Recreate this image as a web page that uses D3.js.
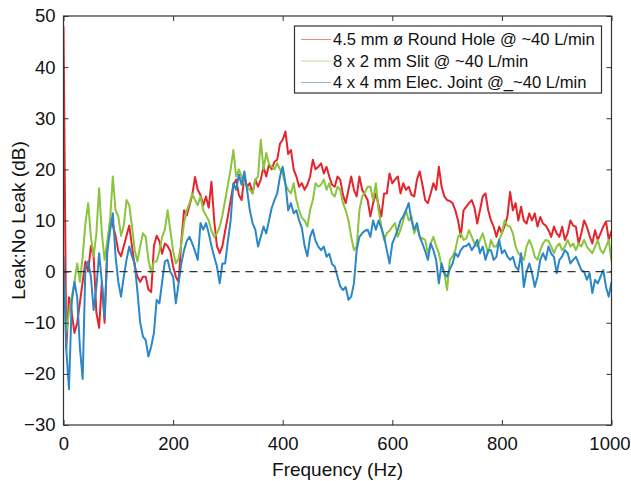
<!DOCTYPE html>
<html>
<head>
<meta charset="utf-8">
<script src="https://cdn.jsdelivr.net/npm/d3@7"></script>
<style>
  body { margin: 0; background: #fff; }
  text { font-family: "Liberation Sans", Arial, Helvetica, sans-serif; fill: #111; }
</style>
</head>
<body>
<script>
    //Declare consts/global variables
        const width = 631;
        const height = 481;
        const plotLeft = 63.5, plotRight = 611.5, plotTop = 16, plotBottom = 425;

    //Data - frequency grid (Hz) and the three leak traces (dB), every 5 Hz
        const freqs = d3.range(0, 1001, 5);

        const roundHole = [
            48, -15, -5, -8, -12, -10, -6, -2, 2, 0, 5, 3, -8, -11, -2, -10, 5, 10, 9, 7,
            4, 3, 5, 7, 9, 5, 1, -1, -2, -1, -1, -3.5, -4, 5, 7, 6, 3.5, 5.5, 5, 4,
            1, -1, -2, 6, 12, 11, 13, 15, 18.5, 16, 15, 13, 14.7, 12.5, 17.6, 10, 5, 3.6, 5, 8,
            10.8, 14, 17, 18, 15, 14, 18.6, 16.6, 17.3, 15.3, 18, 16.6, 18, 20.5, 18.6, 21, 20, 21.5, 21.9, 25,
            25.8, 27.4, 23, 23.8, 20, 18.6, 16.6, 17.3, 16, 17, 18.6, 21.9, 20, 20.5, 21.2, 19.2, 20.5, 18.6, 17, 16.6,
            18.6, 18, 15, 13.4, 16, 18.6, 16, 14.7, 18.6, 16, 15, 14, 10.8, 13.4, 15.3, 13, 10.8, 15.3, 15.3, 19.2,
            17.3, 18, 18.6, 15.3, 17.3, 16, 16.6, 15, 14.7, 18, 19.6, 17, 14, 13.4, 15.3, 17.3, 16, 20.5, 16.6, 14.7,
            14, 13.8, 13.4, 12, 10, 6.8, 12, 12.7, 13.4, 14, 12.5, 9.4, 12, 14.7, 15.3, 12, 10, 8.8, 6.8, 8.8,
            7.5, 9, 10.7, 15.6, 12, 13.4, 10, 12.7, 10, 9.4, 11.4, 10, 11.4, 8.8, 10.7, 9.4, 9, 8.1, 6.8, 8.8,
            7.5, 6.8, 8.8, 6.2, 7.5, 10, 9, 8.8, 5.5, 7.5, 10, 8.8, 7, 5.5, 8.1, 6.2, 7.5, 8.8, 9.8, 6.2,
            8
        ];

        const slit = [
            2, -12, -8, -5, -2, 1.6, -2, 3, 9.5, 13.4, 6.8, 3, 7.5, 16.3, 7.5, 2.3, 6, 10, 18.6, 12,
            10.8, 7, 9, 14, 13, 8.8, 4.2, 2, 5, 7.5, 6.8, 2.3, -0.3, 2, 2, 4, 6.8, 8.2, 12, 8,
            4, 1.6, 2.5, 5.5, 9.5, 12, 13.4, 15.3, 14, 13, 14.7, 12, 11, 10, 8, 6.8, 7.5, 8.8, 11, 14,
            17, 20, 23.8, 18.6, 20, 18.6, 17.3, 16.6, 16, 15.3, 18, 18.6, 25.8, 20, 23.2, 21, 20.5, 20, 21.2, 20,
            19.2, 17, 16, 15.3, 17.3, 14, 12, 10.5, 10, 8.8, 12, 14, 17.3, 16.6, 17, 18, 16, 17.3, 15.3, 14.7,
            16.6, 16, 13.4, 12, 10, 6.8, 4.2, 4.9, 12, 14.7, 15.5, 16.6, 16.6, 14, 17.3, 12, 8.8, 6.2, 7.5, 8,
            8.8, 9.5, 6.8, 8.2, 10, 12, 10, 10.8, 7.5, 8.8, 6.8, 6.5, 6.2, 3.6, 5.5, 6.8, 5, 3.6, 1, -0.3,
            -3.6, 2.3, 3, 4.2, 6.8, 7.5, 6.2, 6.5, 8.1, 6.8, 5.5, 4.9, 6.2, 7.5, 5.5, 3.6, 6.2, 4.9, 4.9, 6.2,
            7.5, 10, 9, 8.8, 7.5, 4.9, 3.6, 3, 2.3, 4.9, 6.2, 4.9, 2.9, 2.3, 4.2, 5.5, 6.2, 6, 4.9, 3.6,
            4.9, 5.5, 4.2, 4.9, 6.2, 4.9, 5.5, 4.2, 5.5, 4.9, 6.2, 4.9, 4.2, 3.6, 4.9, 6.2, 4.2, 3.6, 4.9, 6.2,
            2
        ];

        const elecJoint = [
            3, -15, -23, -6, -2, -5, -15, -21, 1, 2, -1, -7.5, -3, 3.6, -2, -9, 4, 8, 11.4, 3,
            -2, -4.9, -1, 2.3, 4.9, 3, 1.6, -4, -10, -12.7, -13.4, -16.6, -14.7, -12, -5.5, -6.2, -2, 2, 2.3, 0,
            -1, -6.2, -2.3, 1.6, 4.2, 6, 6.8, 5.5, 4, 2.3, 9.5, 8.2, 9.5, 7.5, 5, 2.9, 1, -2.3, 1.6, 1.6,
            6, 10, 17.3, 16, 19, 17, 19.6, 16, 12, 9.5, 8.2, 4.9, 6.8, 8.8, 7.5, 10, 12.5, 14, 15.3, 18.6,
            20.5, 17.3, 12, 13.4, 11.4, 12, 10, 8.5, 5, 3, 6.8, 8.2, 6, 4.9, 4.2, 4.9, 2.9, 3.5, 1.5, 1,
            -1, -2.9, -3.6, -3, -5.5, -4.9, -2.3, 4.2, 6.8, 7.5, 8, 8.2, 6.8, 10, 8.2, 10, 8.5, 6.8, 4.2, 1.6,
            5.5, 6.8, 8.2, 10, 10.8, 12, 13.4, 10, 8.2, 9.5, 6.8, 5.5, 4, 2.3, 5.5, 4.2, 2.3, -2.3, 1.6, -0.3,
            -1, 0.5, 1.6, 3.6, 2.9, 4.2, 4.9, 5, 5.5, 4.2, 5, 6.2, 3.6, 4.9, 2.3, 4.2, 4.2, 2.3, 2.9, 6.2,
            3.6, 4.2, 3, 2.3, 2.9, 1, 0.3, 3.6, -3, 0, 1.6, -0.3, -3, -1, 2.3, 3.6, 2.3, 4.9, 3.5, 2.9,
            -0.3, 2.3, 3, 4.2, 3.6, 1.6, 2.3, 2.9, 1.6, 0.3, 0, -1.6, -0.3, -4.2, -1.6, -2.3, -1, 0.3, -3, -4.9,
            -2
        ];

        const seriesNames = [
            "4.5 mm ø Round Hole @ ~40 L/min",
            "8 x 2 mm Slit @ ~40 L/min",
            "4 x 4 mm Elec. Joint @_~40 L/min"
        ];
        const seriesColors = ["#e4252b", "#8cc43e", "#2b87c8"];
        const seriesValues = [roundHole, slit, elecJoint];

        const xTicks = [0, 200, 400, 600, 800, 1000];
        const yTicks = [-30, -20, -10, 0, 10, 20, 30, 40, 50];


    //Scales
        const xScale = d3.scaleLinear()
                        .domain([0, 1000])
                        .range([plotLeft, plotRight]);

        const yScale = d3.scaleLinear()
                        .domain([-30, 50])
                        .range([plotBottom, plotTop]);


    //SVG
        const svg = d3.select("body")
                    .append("svg")
                    .attr("width", width)
                    .attr("height", height);

        svg.append("rect")
            .attr("width", width)
            .attr("height", height)
            .attr("fill", "#fff");


    //Clip so the traces stay inside the box
        svg.append("clipPath")
            .attr("id", "plot-clip")
            .append("rect")
            .attr("x", plotLeft)
            .attr("y", plotTop)
            .attr("width", plotRight - plotLeft)
            .attr("height", plotBottom - plotTop);


    //Lines - drawn in legend order so the blue sits on top
        const line = d3.line()
                    .x((d, i) => xScale(freqs[i]))
                    .y(d => yScale(d));

        const traces = svg.append("g").attr("clip-path", "url(#plot-clip)");

        seriesValues.forEach((vals, k) => {
            traces.append("path")
                .datum(vals)
                .attr("d", line)
                .attr("fill", "none")
                .attr("stroke", seriesColors[k])
                .attr("stroke-width", 2)
                .attr("stroke-linejoin", "round");
        });

        // zero reference
        svg.append("line")
            .attr("x1", xScale(0))
            .attr("x2", xScale(1000))
            .attr("y1", yScale(0))
            .attr("y2", yScale(0))
            .attr("stroke", "#333")
            .attr("stroke-width", 1.3)
            .attr("stroke-dasharray", "8,6");


    //Axes - MATLAB style, ticks pointing inward on all four sides
        const styleAxis = g => {
            g.select(".domain").remove();
            g.selectAll(".tick line").attr("stroke", "#333");
            g.selectAll(".tick text")
                .attr("fill", "#111")
                .style("font-size", "18.5px");
        };

        const xAxisG = svg.append("g")
            .attr("transform", "translate(0," + plotBottom + ")")
            .call(d3.axisBottom(xScale).tickValues(xTicks).tickFormat(d3.format("d")).tickSize(-5).tickPadding(12))
            .call(styleAxis);

        // the last label sits against the page edge, pull it in a touch
        xAxisG.selectAll(".tick text")
            .filter(d => d === 1000)
            .attr("text-anchor", "end")
            .attr("x", 630 - plotRight);

        svg.append("g")
            .attr("transform", "translate(0," + plotTop + ")")
            .call(d3.axisTop(xScale).tickValues(xTicks).tickSize(-5).tickFormat(""))
            .call(styleAxis);

        svg.append("g")
            .attr("transform", "translate(" + plotLeft + ",0)")
            .call(d3.axisLeft(yScale).tickValues(yTicks).tickSize(-5).tickPadding(8))
            .call(styleAxis);

        svg.append("g")
            .attr("transform", "translate(" + plotRight + ",0)")
            .call(d3.axisRight(yScale).tickValues(yTicks).tickSize(-5).tickFormat(""))
            .call(styleAxis);

        svg.append("rect")
            .attr("x", plotLeft)
            .attr("y", plotTop)
            .attr("width", plotRight - plotLeft)
            .attr("height", plotBottom - plotTop)
            .attr("fill", "none")
            .attr("stroke", "#333")
            .attr("stroke-width", 1.2);


    //Axis labels
        svg.append("text")
            .attr("x", (plotLeft + plotRight) / 2)
            .attr("y", 476)
            .attr("text-anchor", "middle")
            .style("font-size", "19px")
            .text("Frequency (Hz)");

        svg.append("text")
            .attr("transform", "translate(25," + (plotTop + plotBottom) / 2 + ") rotate(-90)")
            .attr("text-anchor", "middle")
            .style("font-size", "19px")
            .text("Leak:No Leak (dB)");


    //Legend
        const legend = svg.append("g");

        legend.append("rect")
            .attr("x", 294.5)
            .attr("y", 26)
            .attr("width", 307)
            .attr("height", 67)
            .attr("fill", "#fff")
            .attr("stroke", "#333")
            .attr("stroke-width", 1.2);

        seriesNames.forEach((name, k) => {
            const cy = 39.5 + k * 21.5;
            legend.append("line")
                .attr("x1", 301)
                .attr("x2", 331)
                .attr("y1", cy)
                .attr("y2", cy)
                .attr("stroke", seriesColors[k])
                .attr("stroke-opacity", 0.55)
                .attr("stroke-width", 1);
            legend.append("text")
                .attr("x", 333)
                .attr("y", cy)
                .attr("dy", "0.35em")
                .style("font-size", "16.6px")
                .text(name);
        });
</script>
</body>
</html>
